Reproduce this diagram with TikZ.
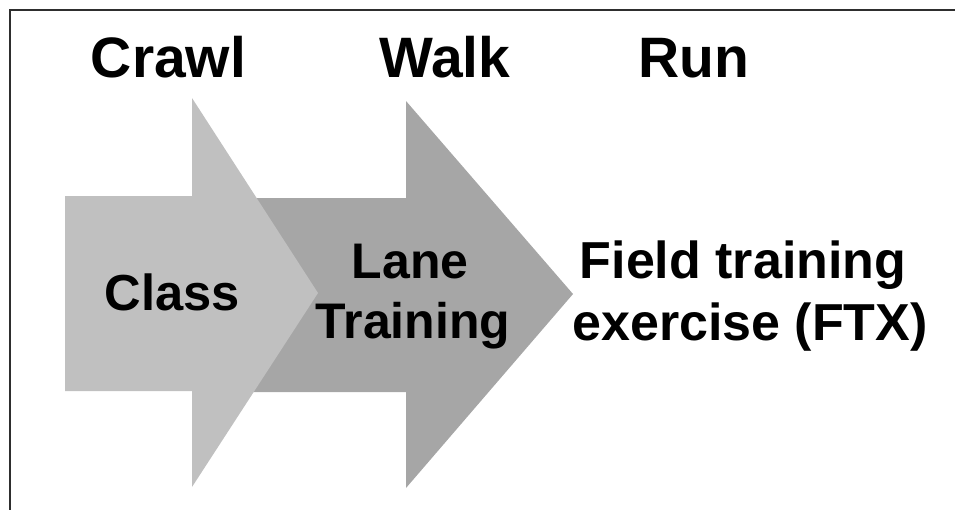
\documentclass[tikz,border=0pt]{standalone}
\usepackage{fontspec}
\setmainfont{Liberation Sans}
\definecolor{crawlgray}{HTML}{C0C0C0}
\definecolor{walkgray}{HTML}{A6A6A6}
\definecolor{framegray}{HTML}{2E2E2E}
\begin{document}
\begin{tikzpicture}[x=0.75pt,y=-0.75pt,
  stage/.style={inner sep=0pt,anchor=base,font=\bfseries\fontsize{42.75}{50}\selectfont},
  label/.style={inner sep=0pt,anchor=base,font=\bfseries\fontsize{#1}{#1}\selectfont},
  frameline/.style={draw=framegray,line width=1.5pt}]
  \useasboundingbox (0,0) rectangle (955,510);
  % frame: top and left edges
  \draw[frameline] (955,10) -- (10,10) -- (10,510);
  % second stage arrow (behind)
  \fill[walkgray] (240,198) -- (406,198) -- (406,101) -- (573,294)
    -- (406,488) -- (406,392) -- (240,392) -- cycle;
  % first stage arrow (front)
  \fill[crawlgray] (65,196) -- (192,196) -- (192,98) -- (318,293)
    -- (192,487) -- (192,391) -- (65,391) -- cycle;
  % stage headings
  \node[stage] (crawl) at (168.5,78) {Crawl};
  \node[stage] (walk) at (445,78) {Walk};
  \node[stage] (run) at (694,78) {Run};
  % stage contents
  \node[label=38] (class) at (172.5,310) {Class};
  \node[label=37.5] (lane) at (410,278) {Lane};
  \node[label=37.5] (training) at (413,338) {Training};
  \node[label=39] (field) at (743,278) {Field training};
  \node[label=39] (ftx) at (750,340) {exercise (FTX)};
\end{tikzpicture}
\end{document}
